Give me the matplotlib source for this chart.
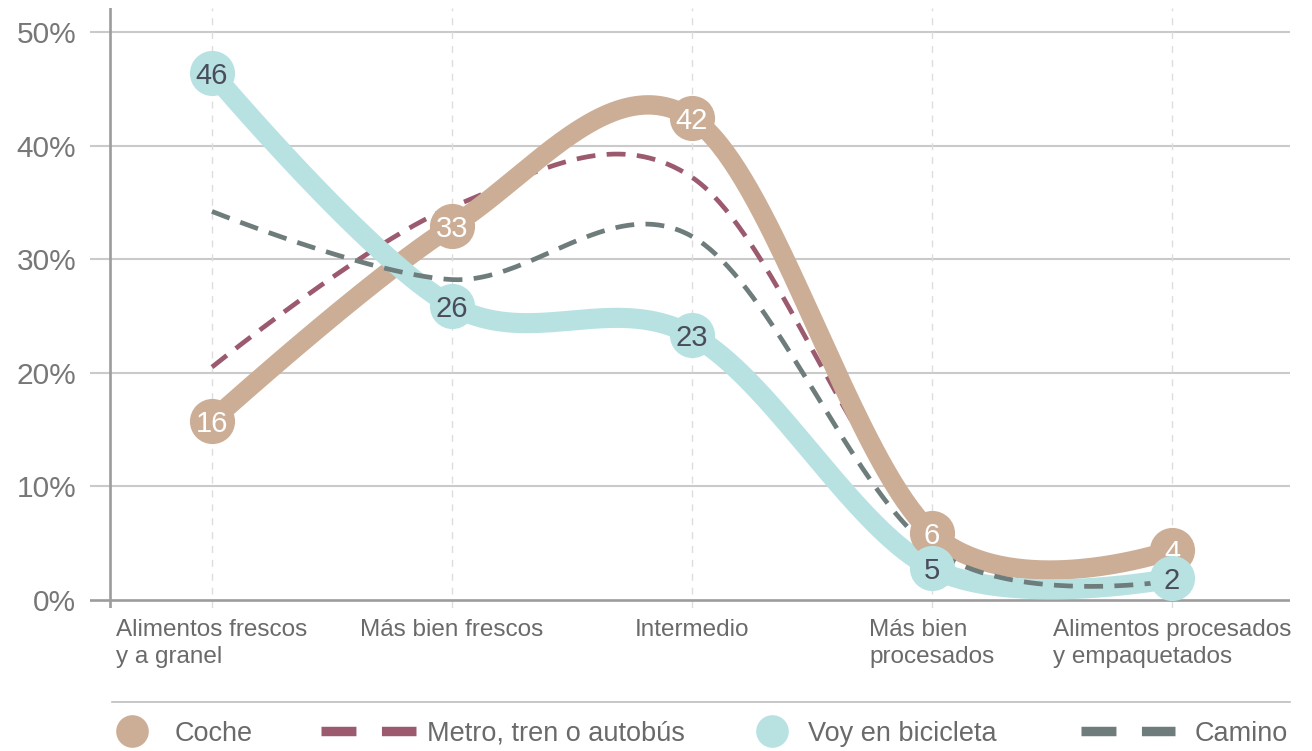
import numpy as np
import matplotlib
matplotlib.use("Agg")
import matplotlib.pyplot as plt

plt.rcParams['font.family'] = ['Liberation Sans', 'DejaVu Sans']

# ---------------- data ----------------
categories = ["Alimentos frescos\ny a granel", "Más bien frescos", "Intermedio",
              "Más bien\nprocesados", "Alimentos procesados\ny empaquetados"]
coche = [15.8, 32.9, 42.4, 5.9, 4.4]
coche_labels = ["16", "33", "42", "6", "4"]
metro = [20.5, 34.6, 37.2, 6.3, 3.8]
bici = [46.4, 25.9, 23.3, 2.8, 1.9]
bici_labels = ["46", "26", "23", "5", "2"]
camino = [34.2, 28.2, 32.0, 4.5, 1.7]
y_ticks = [0, 10, 20, 30, 40, 50]
y_tick_labels = ["0%", "10%", "20%", "30%", "40%", "50%"]
series_names = ["Coche", "Metro, tren o autobús", "Voy en bicicleta", "Camino"]

# ---------------- styles ----------------
C_COCHE = "#CCAE96"
C_METRO = "#9B5A6D"
C_BICI = "#B8E2E2"
C_CAMINO = "#6E7C7C"
C_DARK = "#4A4C5C"
C_TEXT = "#6A6A6A"


def cardinal(xs, ys, n=80):
    """d3.curveCardinal (tension 0) as a dense polyline."""
    P = np.column_stack([xs, ys]).astype(float)
    k = 1.0 / 6.0
    out = []
    m = len(P)
    for i in range(m - 1):
        p1, p2 = P[i], P[i + 1]
        c1 = p1 + k * (p2 - P[i - 1]) if i > 0 else p1
        c2 = p2 - k * (P[i + 2] - p1) if i + 2 < m else p2
        t = np.linspace(0, 1, n)[:, None]
        seg = ((1 - t) ** 3) * p1 + 3 * ((1 - t) ** 2) * t * c1 + 3 * (1 - t) * t ** 2 * c2 + t ** 3 * p2
        if i > 0:
            seg = seg[1:]
        out.append(seg)
    out = np.vstack(out)
    return out[:, 0], out[:, 1]


W, H = 1312, 751
fig = plt.figure(figsize=(W / 100, H / 100), dpi=100)

ax_l, ax_r, ax_t, ax_b = 90, 1290, 8, 608
ax = fig.add_axes([ax_l / W, 1 - ax_b / H, (ax_r - ax_l) / W, (ax_b - ax_t) / H])

x = np.arange(len(categories))
px_per_cat = 240.0
xmin = -(212 - ax_l) / px_per_cat
xmax = len(categories) - 1 + (ax_r - 1172) / px_per_cat
ax.set_xlim(xmin, xmax)
ax.set_ylim(-0.7, 52.1)

for s in ax.spines.values():
    s.set_visible(False)

# grid
for yv in y_ticks:
    if yv == 0:
        ax.axhline(yv, color="#9C9C9C", lw=1.9, zorder=1)
    else:
        ax.axhline(yv, color="#CACACA", lw=1.5, zorder=0)
for xv in x:
    ax.axvline(xv, color="#DDDDDD", lw=1.0, ls=(0, (5, 5)), zorder=0)
# y axis line
ax.axvline(xmin + 20 / px_per_cat, color="#9C9C9C", lw=1.9, zorder=1)

ax.set_yticks(y_ticks)
ax.set_yticklabels(y_tick_labels)
ax.tick_params(axis="y", length=0, pad=10, labelsize=21.5, labelcolor="#777777")
ax.set_xticks(x)
ax.set_xticklabels(categories)
ax.tick_params(axis="x", length=0, pad=8, labelsize=17.5, labelcolor=C_TEXT)
for t in ax.get_xticklabels():
    t.set_multialignment("left")
    t.set_linespacing(1.3)

# lines
sx, sy = cardinal(x, metro)
ax.plot(sx, sy, color=C_METRO, lw=3.4, dashes=(4.0, 2.4), zorder=2)
sx, sy = cardinal(x, coche)
ax.plot(sx, sy, color=C_COCHE, lw=14, solid_capstyle="round", solid_joinstyle="round", zorder=3)
sx, sy = cardinal(x, bici)
ax.plot(sx, sy, color=C_BICI, lw=14.5, solid_capstyle="round", solid_joinstyle="round", zorder=4)
sx, sy = cardinal(x, camino)
ax.plot(sx, sy, color=C_CAMINO, lw=3.4, dashes=(4.0, 2.4), zorder=5)

# circles + labels
ax.plot(x, coche, "o", ms=32.5, color=C_COCHE, mec="none", zorder=6)
for xi, yi, lab in zip(x, coche, coche_labels):
    ax.text(xi, yi, lab, color="white", fontsize=21, ha="center", va="center_baseline", zorder=7)
ax.plot(x, bici, "o", ms=32.5, color=C_BICI, mec="none", zorder=8)
for xi, yi, lab in zip(x, bici, bici_labels):
    ax.text(xi, yi, lab, color=C_DARK, fontsize=21, ha="center", va="center_baseline", zorder=9)

# ---------------- legend (figure pixel coordinates) ----------------
lax = fig.add_axes([0, 0, 1, 1], zorder=-1)
lax.set_xlim(0, W)
lax.set_ylim(H, 0)
lax.axis("off")
lax.plot([112, 1290], [702, 702], color="#BDBDBD", lw=1.2)
ly = 731
fs_leg = 19.5
lax.plot([132], [ly], "o", ms=23.5, color=C_COCHE, mec="none")
lax.text(175, ly, series_names[0], fontsize=fs_leg, color=C_TEXT, va="center_baseline", ha="left")
lax.plot([321, 416], [ly, ly], color=C_METRO, lw=6.8, dashes=(3.7, 2.7), dash_capstyle="butt")
lax.text(427, ly, series_names[1], fontsize=fs_leg, color=C_TEXT, va="center_baseline", ha="left")
lax.plot([772], [ly], "o", ms=23.5, color=C_BICI, mec="none")
lax.text(808, ly, series_names[2], fontsize=fs_leg, color=C_TEXT, va="center_baseline", ha="left")
lax.plot([1081, 1175], [ly, ly], color=C_CAMINO, lw=6.8, dashes=(3.7, 2.7), dash_capstyle="butt")
lax.text(1195, ly, series_names[3], fontsize=fs_leg, color=C_TEXT, va="center_baseline", ha="left")

fig.savefig("out.png", dpi=100)
